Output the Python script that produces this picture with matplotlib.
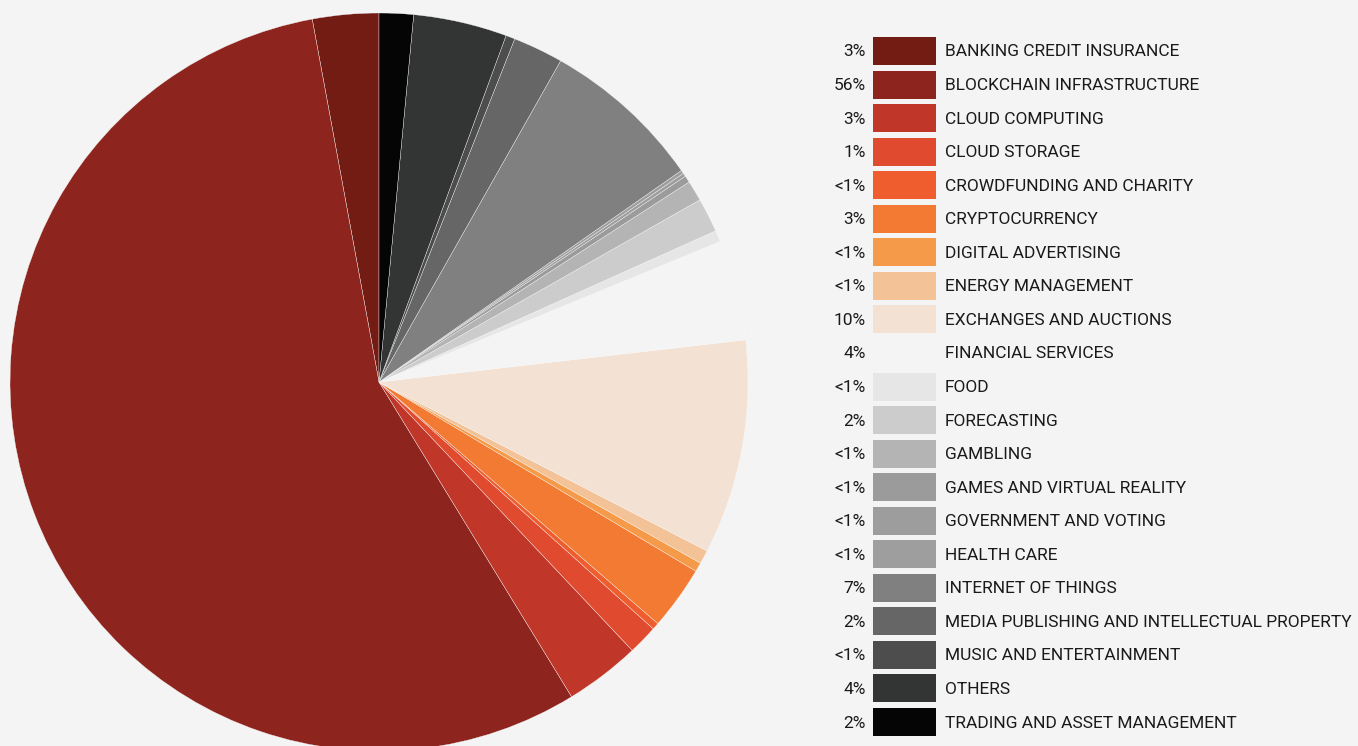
import matplotlib.pyplot as plt
from matplotlib.patches import Rectangle

categories = ["BANKING CREDIT INSURANCE", "BLOCKCHAIN INFRASTRUCTURE", "CLOUD COMPUTING",
              "CLOUD STORAGE", "CROWDFUNDING AND CHARITY", "CRYPTOCURRENCY",
              "DIGITAL ADVERTISING", "ENERGY MANAGEMENT", "EXCHANGES AND AUCTIONS",
              "FINANCIAL SERVICES", "FOOD", "FORECASTING", "GAMBLING",
              "GAMES AND VIRTUAL REALITY", "GOVERNMENT AND VOTING", "HEALTH CARE",
              "INTERNET OF THINGS", "MEDIA PUBLISHING AND INTELLECTUAL PROPERTY",
              "MUSIC AND ENTERTAINMENT", "OTHERS", "TRADING AND ASSET MANAGEMENT"]
shares = [2.9, 55.9, 3.3, 1.3, 0.3, 2.8, 0.4, 0.6, 9.4, 4.4, 0.5, 1.5, 0.9,
          0.3, 0.15, 0.15, 7.1, 2.2, 0.4, 4.1, 1.5]
pct_labels = ["3%", "56%", "3%", "1%", "<1%", "3%", "<1%", "<1%", "10%", "4%", "<1%",
              "2%", "<1%", "<1%", "<1%", "<1%", "7%", "2%", "<1%", "4%", "2%"]
colors = ["#731c13", "#8e241e", "#c03629", "#e04a2e", "#ef5d2e", "#f27a32",
          "#f59a48", "#f3c297", "#f3e2d4", "#f4f4f4", "#e6e6e6", "#cccccc",
          "#b4b4b4", "#9b9b9b", "#9d9d9d", "#9e9e9e", "#808080", "#666666",
          "#4d4d4d", "#333534", "#050505"]

BG = "#f4f4f4"
W, H = 1358, 746

plt.rcParams['font.family'] = ['Roboto', 'DejaVu Sans']

fig = plt.figure(figsize=(W / 100, H / 100), dpi=100, facecolor=BG)

# pie axes: centre ~ (379, 382) px, radius ~369 px
cx, cy, r = 379, 382, 369
ax = fig.add_axes([(cx - r) / W, (H - cy - r) / H, 2 * r / W, 2 * r / H])
ax.set_facecolor(BG)
ax.pie(shares, colors=colors, startangle=90, counterclock=True,
       wedgeprops=dict(edgecolor="#fafafa", linewidth=0.25))
ax.set_xlim(-1, 1)
ax.set_ylim(-1, 1)
ax.set_aspect('auto')
ax.axis('off')

# legend drawn in pixel coords
lg = fig.add_axes([0, 0, 1, 1])
lg.set_xlim(0, W)
lg.set_ylim(H, 0)
lg.axis('off')
lg.patch.set_alpha(0)

# fit the longest label to the width it has in the original (~411 px)
renderer = fig.canvas.get_renderer()
probe = lg.text(0, 0, max(categories, key=len), fontsize=14)
fs = 14 * 409 / probe.get_window_extent(renderer).width
probe.remove()

y0, dy = 51, 33.55
for i, (name, pct, col) in enumerate(zip(categories, pct_labels, colors)):
    y = y0 + i * dy
    lg.add_patch(Rectangle((873, y - 14), 63, 28, facecolor=col, edgecolor='none'))
    lg.text(866, y + 1, pct, ha='right', va='center', fontsize=fs, color="#1a1a1a")
    lg.text(945, y + 1, name, ha='left', va='center', fontsize=fs, color="#1a1a1a")

fig.savefig("out.png", dpi=100, facecolor=BG)
